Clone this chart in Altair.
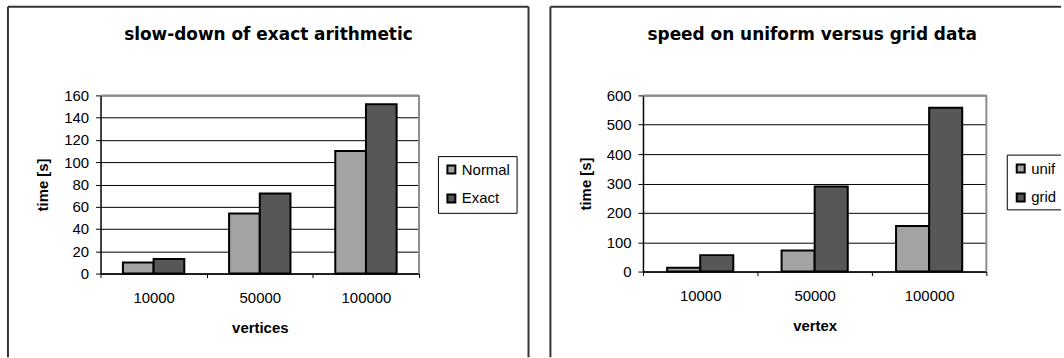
import altair as alt
import pandas as pd

# ---------------- data ----------------
categories = ["10000", "50000", "100000"]

left_series = ["Normal", "Exact"]
left_normal = [10, 54, 110]
left_exact = [13, 72, 152]
left_ticks = [0, 20, 40, 60, 80, 100, 120, 140, 160]

right_series = ["unif", "grid"]
right_unif = [13, 72, 155]
right_grid = [56, 290, 558]
right_ticks = [0, 100, 200, 300, 400, 500, 600]

left_title = "slow-down of exact arithmetic"
right_title = "speed on uniform versus grid data"
left_xtitle = "vertices"
right_xtitle = "vertex"
y_title = "time [s]"

bar_colors = ["#a3a3a3", "#575757"]

FRAME = "#333333"
BORDER = "#8c8c8c"


def vrule(x, y1, y2, color=FRAME, width=2):
    return alt.Chart(alt.Data(values=[{"k": 1}])).mark_rule(
        color=color, strokeWidth=width).encode(
        x=alt.value(x), y=alt.value(y1), y2=alt.value(y2))


def hrule(y, x1, x2, color=FRAME, width=2):
    return alt.Chart(alt.Data(values=[{"k": 1}])).mark_rule(
        color=color, strokeWidth=width).encode(
        y=alt.value(y), x=alt.value(x1), x2=alt.value(x2))


def panel(series_names, s1, s2, yticks, title, xtitle, W, H,
          legend_x, legend_y, title_x, frame_right, close_right, open_legend):
    df = pd.DataFrame({
        "cat": categories * 2,
        "series": [series_names[0]] * len(categories) + [series_names[1]] * len(categories),
        "value": s1 + s2,
    })

    bars = alt.Chart(df).mark_bar(stroke="black", strokeWidth=2).encode(
        x=alt.X("cat:N", sort=categories,
                scale=alt.Scale(paddingInner=0, paddingOuter=0),
                axis=alt.Axis(title=xtitle, labelAngle=0, tickBand="extent",
                              tickSize=4, labelPadding=13, grid=False,
                              titleY=59, titleBaseline="alphabetic")),
        xOffset=alt.XOffset("series:N", sort=series_names,
                            scale=alt.Scale(domain=series_names,
                                            paddingOuter=0.73, paddingInner=0)),
        y=alt.Y("value:Q",
                scale=alt.Scale(domain=[yticks[0], yticks[-1]], nice=False),
                axis=alt.Axis(title=y_title, values=yticks, grid=True,
                              tickSize=5, labelPadding=7,
                              titleX=-53, titleBaseline="alphabetic")),
        color=alt.Color("series:N", sort=series_names,
                        scale=alt.Scale(domain=series_names, range=bar_colors),
                        legend=alt.Legend(title=None, orient="none",
                                          legendX=legend_x, legendY=legend_y,
                                          strokeColor="transparent" if open_legend else "black",
                                          fillColor="transparent" if open_legend else "white",
                                          padding=6, symbolType="square",
                                          symbolSize=64, symbolStrokeColor="black",
                                          symbolStrokeWidth=2,
                                          labelFont="Liberation Sans",
                                          labelFontSize=15, labelColor="black",
                                          rowPadding=12, labelOffset=3)),
    )

    one = alt.Data(values=[{"k": 1}])

    ttl = alt.Chart(one).mark_text(font="DejaVu Sans", fontWeight="bold",
                                   fontSize=17, baseline="alphabetic",
                                   align="center", color="black").encode(
        x=alt.value(title_x), y=alt.value(-55.5), text=alt.value(title))

    layers = [
        vrule(-93, -89, 263),          # outer frame, left side
        hrule(-89, -93, frame_right),  # outer frame, top
    ]
    if close_right:
        layers.append(vrule(frame_right, -89, 263))
    layers += [
        ttl,
        bars,
        hrule(0, 0, W, color=BORDER),
        vrule(W, 0, H, color=BORDER),
    ]
    if open_legend:
        # legend box running past the right edge of the page
        layers += [
            vrule(legend_x, legend_y, legend_y + 55, color="black", width=1),
            hrule(legend_y, legend_x, frame_right, color="black", width=1),
            hrule(legend_y + 55, legend_x, frame_right, color="black", width=1),
        ]

    return alt.layer(*layers).properties(width=W, height=H)


left = panel(left_series, left_normal, left_exact, left_ticks, left_title,
             left_xtitle, 320, 179, 339, 61, 168.7, 430, True, False)
right = panel(right_series, right_unif, right_grid, right_ticks, right_title,
              right_xtitle, 345, 177, 366, 60, 170, 420, False, True)

chart = alt.hconcat(left, right, spacing=18).resolve_scale(
    color="independent", xOffset="independent"
).resolve_legend(color="independent").properties(
    padding={"left": 6, "top": 4, "right": 0, "bottom": 0},
    background="white",
).configure_view(stroke="transparent").configure_axis(
    labelFont="Liberation Sans", labelFontSize=15, labelColor="black",
    titleFont="Liberation Sans", titleFontSize=15, titleFontWeight="bold",
    titleColor="black", domainColor="black", tickColor="black",
    gridColor="black", gridWidth=1, domainWidth=1.5,
)

chart.save("out.html", embed_options={"renderer": "svg", "actions": False})
